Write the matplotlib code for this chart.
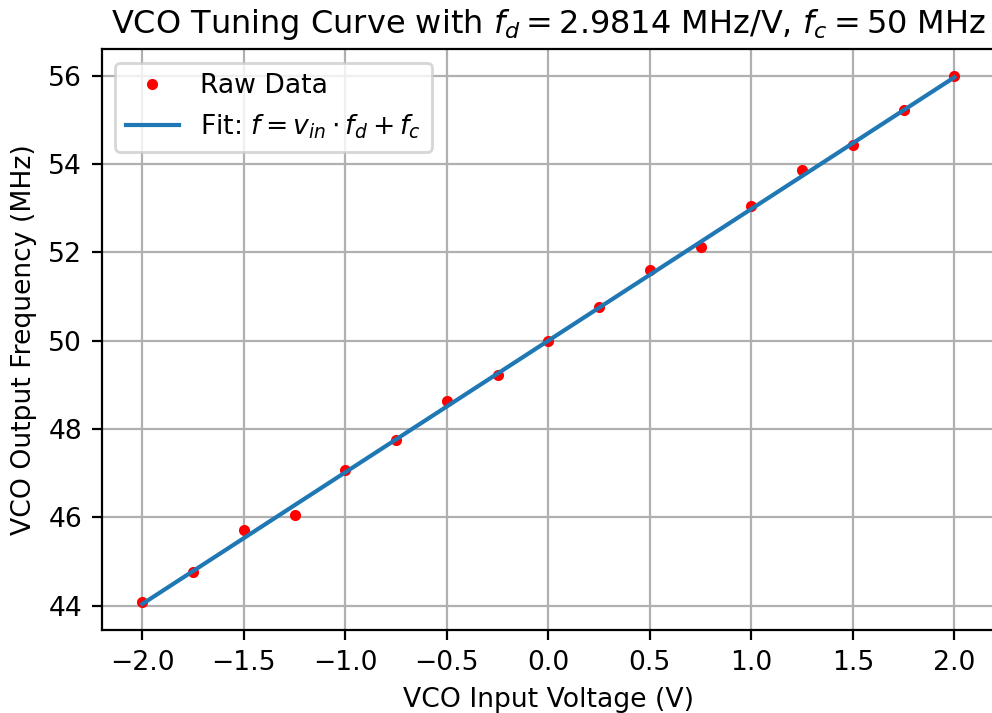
import numpy as np
import matplotlib
matplotlib.use('Agg')
import matplotlib.pyplot as plt

v_in = [-2.0, -1.75, -1.5, -1.25, -1.0, -0.75, -0.5, -0.25, 0.0,
        0.25, 0.5, 0.75, 1.0, 1.25, 1.5, 1.75, 2.0]
f_out = [44.09, 44.77, 45.71, 46.06, 47.06, 47.74, 48.64, 49.22, 50.0,
         50.77, 51.60, 52.13, 53.05, 53.86, 54.43, 55.22, 56.0]

# fit parameters from the title
fd = 2.9814
fc = 50

plt.rcParams['font.size'] = 9.6

fig = plt.figure(figsize=(992 / 200, 713 / 200), dpi=200)
ax = fig.add_axes([101.7 / 992, 1 - 630.4 / 713, (995 - 101.7) / 992, (630.4 - 49.2) / 713])

ax.plot(v_in, f_out, 'r.', label='Raw Data')
v_fit = np.array([v_in[0], v_in[-1]])
ax.plot(v_fit, v_fit * fd + fc, label=r'Fit: $f = v_{in} \cdot f_d + f_c$')

ax.set_title(r'VCO Tuning Curve with $f_d = 2.9814$ MHz/V, $f_c = 50$ MHz')
ax.set_xlabel('VCO Input Voltage (V)')
ax.set_ylabel('VCO Output Frequency (MHz)')
ax.grid(True)
ax.legend(loc='upper left')

fig.savefig('out.png', dpi=200)
